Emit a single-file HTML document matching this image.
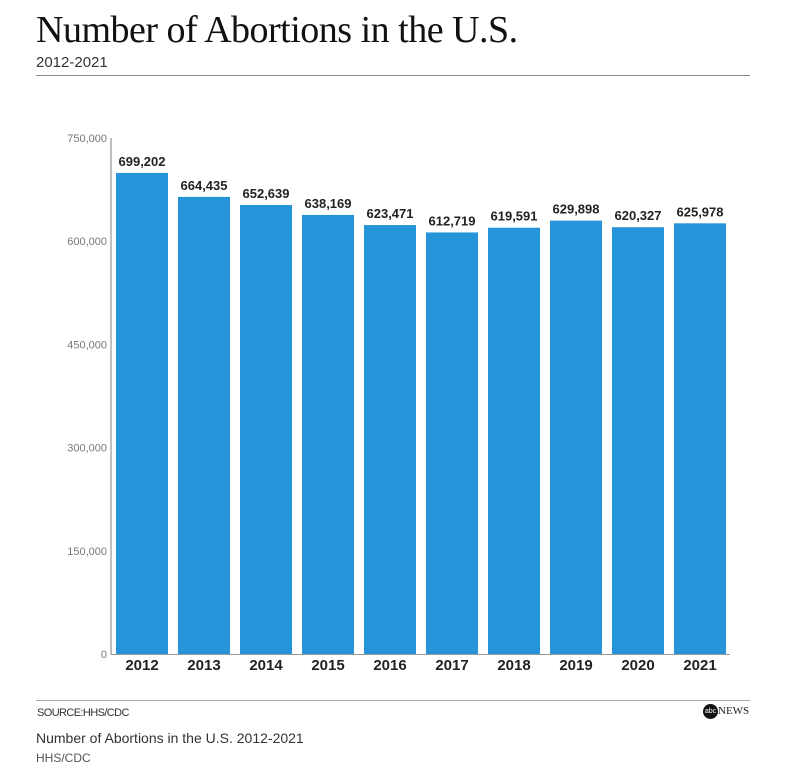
<!DOCTYPE html>
<html><head><meta charset="utf-8"><style>
body{margin:0;background:#fff;width:804px;height:776px;overflow:hidden;font-family:"Liberation Sans",sans-serif}
.t{position:absolute;left:36px;top:8px;font-family:"Liberation Serif",serif;font-size:38px;color:#111;letter-spacing:-0.5px}
.s{position:absolute;left:36px;top:54px;font-size:15px;color:#333}
.hr{position:absolute;left:36px;width:714px;height:1px;background:#888}
</style></head><body>
<div class="t">Number of Abortions in the U.S.</div>
<div class="s">2012-2021</div>
<div class="hr" style="top:75px"></div>
<svg id="c" width="804" height="776" style="position:absolute;left:0;top:0"></svg>
<div class="hr" style="top:700px;background:#aaa"></div>
<div style="position:absolute;left:37px;top:707px;font-size:11px;color:#333;letter-spacing:-0.6px">SOURCE:HHS/CDC</div>
<div style="position:absolute;left:703px;top:704px;font-size:11px;color:#222;font-family:'Liberation Serif',serif"><span style="display:inline-block;width:15px;height:15px;border-radius:50%;background:#111;color:#fff;font-size:7px;line-height:15px;text-align:center;vertical-align:middle;font-family:'Liberation Sans',sans-serif">abc</span>NEWS</div>
<div style="position:absolute;left:36px;top:730px;font-size:14px;color:#333">Number of Abortions in the U.S. 2012-2021</div>
<div style="position:absolute;left:36px;top:751px;font-size:12px;color:#555">HHS/CDC</div>
<script>
const years=["2012","2013","2014","2015","2016","2017","2018","2019","2020","2021"];
const values=[699202,664435,652639,638169,623471,612719,619591,629898,620327,625978];
const ticks=[0,150000,300000,450000,600000,750000];
const svg=document.getElementById('c');const NS='http://www.w3.org/2000/svg';
const y0=654,yTop=138,maxV=750000;
const y=v=>y0-(v/maxV)*(y0-yTop);
const x=i=>116+i*62;
function mk(t,a){const e=document.createElementNS(NS,t);for(const k in a)e.setAttribute(k,a[k]);svg.appendChild(e);return e;}
const ax=mk('line',{x1:111,y1:yTop,x2:111,y2:y0+1,stroke:'#aaa','stroke-width':1.5});

const bx=mk('line',{x1:111,y1:y0+0.5,x2:730,y2:y0+0.5,stroke:'#999','stroke-width':1});

ticks.forEach(t=>{const e=mk('text',{x:107,y:y(t)+4,'text-anchor':'end','font-size':11,fill:'#777'});e.textContent=t.toLocaleString('en-US');
});
values.forEach((v,i)=>{
const r=mk('rect',{x:x(i),y:y(v),width:52,height:y0-y(v),fill:'#2594d8'});

const l=mk('text',{x:x(i)+26,y:y(v)-7,'text-anchor':'middle','font-size':13,'font-weight':'bold',fill:'#222'});l.textContent=v.toLocaleString('en-US');

const c=mk('text',{x:x(i)+26,y:y0+16,'text-anchor':'middle','font-size':15,'font-weight':'bold',fill:'#222'});c.textContent=years[i];

});
</script>
</body></html>
